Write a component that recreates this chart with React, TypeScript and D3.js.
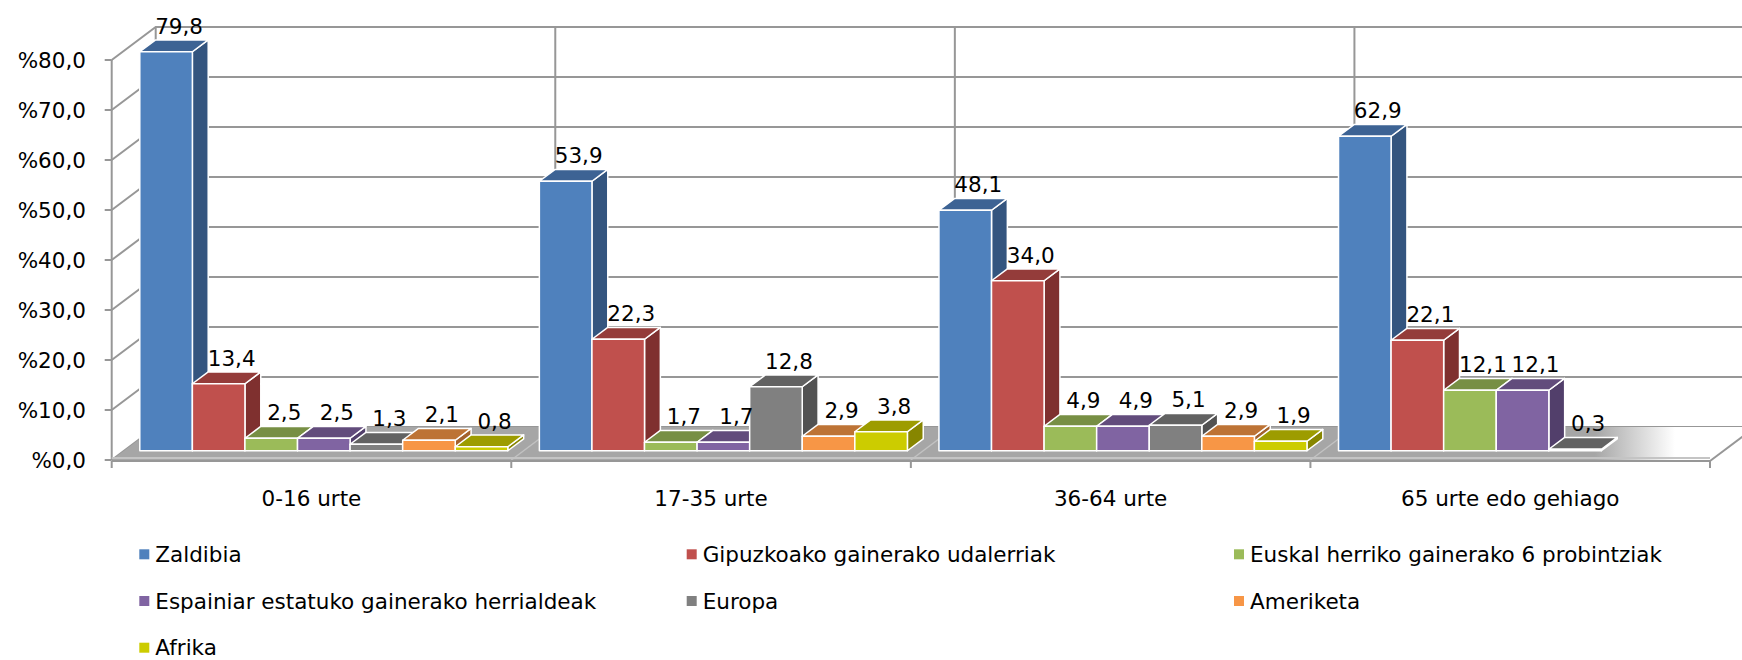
import * as React from 'react'
import * as d3 from 'd3'

const categories = ['0-16 urte', '17-35 urte', '36-64 urte', '65 urte edo gehiago']
const seriesNames = [
  'Zaldibia',
  'Gipuzkoako gainerako udalerriak',
  'Euskal herriko gainerako 6 probintziak',
  'Espainiar estatuko gainerako herrialdeak',
  'Europa',
  'Ameriketa',
  'Afrika',
]
const zaldibia = [79.8, 53.9, 48.1, 62.9]
const gipuzkoa = [13.4, 22.3, 34.0, 22.1]
const euskalHerria = [2.5, 1.7, 4.9, 12.1]
const espainia = [2.5, 1.7, 4.9, 12.1]
const europa = [1.3, 12.8, 5.1, 0.3]
const amerika = [2.1, 2.9, 2.9, null]
const afrika = [0.8, 3.8, 1.9, null]
const yTicks = [0, 10, 20, 30, 40, 50, 60, 70, 80]

const seriesValues = [zaldibia, gipuzkoa, euskalHerria, espainia, europa, amerika, afrika]
// front / top / side shades
const palette = [
  ['#4f81bd', '#3d6394', '#34557f'],
  ['#c0504d', '#943c3a', '#7f302f'],
  ['#9bbb59', '#778f44', '#677b3a'],
  ['#8064a2', '#624c7c', '#523f6b'],
  ['#808080', '#626262', '#525252'],
  ['#f79646', '#bd7335', '#a3622d'],
  ['#cccc00', '#9d9c00', '#878600'],
]

const W = 1742
const H = 660
const FONT = 'Verdana, "DejaVu Sans", sans-serif'
const FS = 21.5
// oblique depth of the whole plot box
const DX = 44
const DY = -33
const T_FRONT = 0.28
const T_BACK = 0.64

const fmt = (v: number) => v.toFixed(1).replace('.', ',')

export default function App() {
  const x0 = 111.7
  const x1 = 1710
  const y = d3.scaleLinear().domain([0, 80]).range([460, 60])
  const xCat = d3.scaleBand().domain(categories).range([x0, x1])
  const xSer = d3
    .scaleBand()
    .domain(seriesNames)
    .range([0, xCat.bandwidth()])
    .paddingInner(0)
    .paddingOuter(0.3)
  const bw = xSer.bandwidth()

  const fdx = DX * T_FRONT
  const fdy = DY * T_FRONT
  const bdx = DX * (T_BACK - T_FRONT)
  const bdy = DY * (T_BACK - T_FRONT)

  const bars: any[] = []
  categories.forEach((c, ci) => {
    seriesNames.forEach((s, si) => {
      const v = seriesValues[si][ci]
      if (v == null) return
      const left = (xCat(c) as number) + (xSer(s) as number) + fdx
      const right = left + bw
      const bottom = y(0) + fdy
      const top = bottom - (y(0) - y(v))
      bars.push({ key: `${ci}-${si}`, v, si, left, right, bottom, top })
    })
  })

  const legendCols = [139.3, 686.7, 1234]
  const legendRows = [554.3, 601, 647.7]

  return (
    <svg
      width={W}
      height={H}
      style={{ position: 'absolute', left: 0, top: 0, display: 'block', background: '#fff' }}
    >
      <defs>
        <linearGradient id="floorFade" gradientUnits="userSpaceOnUse" x1={1595} y1={0} x2={1675} y2={0}>
          <stop offset="0" stopColor="#a6a6a6" />
          <stop offset="1" stopColor="#ffffff" />
        </linearGradient>
      </defs>

      {/* back wall and side gridlines */}
      <g stroke="#979797" strokeWidth={2} fill="none">
        {yTicks.map((t) => (
          <polyline
            key={t}
            points={`${x0},${y(t)} ${x0 + DX},${y(t) + DY} ${W + 10},${y(t) + DY}`}
          />
        ))}
        {[0, 1, 2, 3].map((k) => (
          <line
            key={k}
            x1={x0 + DX + k * xCat.bandwidth()}
            x2={x0 + DX + k * xCat.bandwidth()}
            y1={y(80) + DY}
            y2={y(0) + DY}
          />
        ))}
        <line x1={x0} x2={x0} y1={y(0)} y2={y(80)} />
        {yTicks.map((t) => (
          <line key={'t' + t} x1={x0 - 7} x2={x0} y1={y(t)} y2={y(t)} />
        ))}
      </g>

      {/* floor */}
      <polygon
        points={`${x0},${y(0)} ${x1},${y(0)} ${x1 + DX},${y(0) + DY} ${x0 + DX},${y(0) + DY}`}
        fill="url(#floorFade)"
      />
      <g stroke="#c2c2c2" strokeWidth={1.5}>
        {[1, 2, 3].map((k) => (
          <line
            key={k}
            x1={x0 + k * xCat.bandwidth()}
            y1={y(0)}
            x2={x0 + k * xCat.bandwidth() + DX}
            y2={y(0) + DY}
          />
        ))}
      </g>
      <line x1={x0} x2={x1} y1={y(0) - 2} y2={y(0) - 2} stroke="#c4c4c4" strokeWidth={2} />
      <g stroke="#979797" strokeWidth={2} fill="none">
        <line x1={x0} x2={x1} y1={y(0) + 1} y2={y(0) + 1} />
        <line x1={x1} y1={y(0) + 1} x2={x1 + DX} y2={y(0) + 1 + DY} />
        {[0, 1, 2, 3, 4].map((k) => (
          <line
            key={k}
            x1={x0 + k * xCat.bandwidth()}
            x2={x0 + k * xCat.bandwidth()}
            y1={y(0) + 1}
            y2={y(0) + 8}
          />
        ))}
      </g>

      {/* bars */}
      <g stroke="#fff" strokeWidth={1.5} strokeLinejoin="round">
        {bars.map((b) => {
          const [front, topC, side] = palette[b.si]
          return (
            <g key={b.key}>
              <polygon
                points={`${b.right},${b.top} ${b.right + bdx},${b.top + bdy} ${b.right + bdx},${b.bottom + bdy} ${b.right},${b.bottom}`}
                fill={side}
              />
              <polygon
                points={`${b.left},${b.top} ${b.right},${b.top} ${b.right + bdx},${b.top + bdy} ${b.left + bdx},${b.top + bdy}`}
                fill={topC}
              />
              <rect x={b.left} y={b.top} width={bw} height={b.bottom - b.top} fill={front} />
            </g>
          )
        })}
      </g>

      {/* value labels */}
      <g fontFamily={FONT} fontSize={FS} fill="#000" textAnchor="middle">
        {bars.map((b) => (
          <text key={b.key} x={(b.left + b.right) / 2 + 13} y={b.top + bdy - 6}>
            {fmt(b.v)}
          </text>
        ))}
      </g>

      {/* y axis labels */}
      <g fontFamily={FONT} fontSize={FS} fill="#000" textAnchor="end">
        {yTicks.map((t) => (
          <text key={t} x={86} y={y(t) + 7.6}>
            {'%' + fmt(t)}
          </text>
        ))}
      </g>

      {/* category labels */}
      <g fontFamily={FONT} fontSize={FS} fill="#000" textAnchor="middle">
        {categories.map((c) => (
          <text key={c} x={(xCat(c) as number) + xCat.bandwidth() / 2} y={506}>
            {c}
          </text>
        ))}
      </g>

      {/* legend */}
      <g fontFamily={FONT} fontSize={FS} fill="#000">
        {seriesNames.map((s, i) => {
          const lx = legendCols[i % 3]
          const ly = legendRows[Math.floor(i / 3)]
          return (
            <g key={s}>
              <rect x={lx} y={ly - 5} width={10} height={10} fill={palette[i][0]} />
              <text x={lx + 16} y={ly + 7.6}>
                {s}
              </text>
            </g>
          )
        })}
      </g>
    </svg>
  )
}
